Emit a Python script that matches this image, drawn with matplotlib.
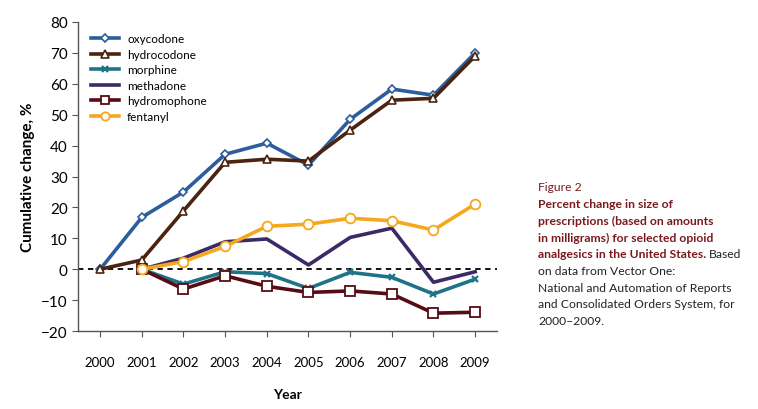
import matplotlib.pyplot as plt

plt.rcParams["font.family"] = ["Lato", "DejaVu Sans"]

years = ["2000", "2001", "2002", "2003", "2004", "2005", "2006", "2007", "2008", "2009"]
oxycodone = [0, 16.8, 25.0, 37.2, 40.8, 33.7, 48.5, 58.3, 56.3, 70.0]
hydrocodone = [0, 3.0, 18.9, 34.6, 35.6, 35.0, 45.0, 54.7, 55.3, 69.0]
morphine = [0, -4.8, -0.8, -1.4, -6.2, -1.0, -2.6, -8.0, -3.2]
methadone = [0, 3.6, 8.9, 9.8, 1.4, 10.3, 13.3, -4.2, -0.8]
hydromorphone = [0, -6.4, -2.1, -5.5, -7.5, -7.0, -8.0, -14.2, -13.9]
fentanyl = [0, 2.5, 7.4, 13.9, 14.6, 16.5, 15.7, 12.7, 21.1]

caption_title = "Figure 2"
caption_bold = ["Percent change in size of", "prescriptions (based on amounts",
                "in milligrams) for selected opioid", "analgesics in the United States."]
caption_plain = ["on data from Vector One:", "National and Automation of Reports",
                 "and Consolidated Orders System, for", "2000\u20132009."]

fig = plt.figure(figsize=(7.58, 4.10), dpi=100)
ax = fig.add_axes([0.103, 0.19, 0.553, 0.754])

x_all = list(range(len(years)))
x_late = list(range(1, len(years)))

ax.axhline(0, color="black", lw=1.3, ls=(0, (3, 2.5)), zorder=1)

ax.plot(x_all, oxycodone, color="#2c5d9c", lw=2.6, marker="D", ms=4.5,
        mfc="white", mec="#2c5d9c", mew=1.2, label="oxycodone", zorder=3)
ax.plot(x_all, hydrocodone, color="#4a2410", lw=2.6, marker="^", ms=6,
        mfc="white", mec="#4a2410", mew=1.2, label="hydrocodone", zorder=3)
ax.plot(x_late, morphine, color="#1f7389", lw=2.6, marker="x", ms=5,
        mec="#1f7389", mew=1.6, label="morphine", zorder=3)
ax.plot(x_late, methadone, color="#3b2a66", lw=2.6, label="methadone", zorder=3)
ax.plot(x_late, hydromorphone, color="#560c14", lw=2.6, marker="s", ms=6.5,
        mfc="white", mec="#560c14", mew=1.3, label="hydromophone", zorder=3)
ax.plot(x_late, fentanyl, color="#f5a81c", lw=2.6, marker="o", ms=7,
        mfc="white", mec="#f5a81c", mew=1.3, label="fentanyl", zorder=3)

ax.set_xlim(-0.53, 9.53)
ax.set_ylim(-20, 80)
ax.set_yticks(range(-20, 81, 10))
ax.set_yticklabels(["\u221220", "\u221210"] + [str(v) for v in range(0, 81, 10)])
ax.set_xticks(x_all)
ax.set_xticklabels(years)

for s in ["top", "right"]:
    ax.spines[s].set_visible(False)
for s in ["left", "bottom"]:
    ax.spines[s].set_color("#555555")
    ax.spines[s].set_linewidth(1.0)
ax.tick_params(axis="y", direction="out", length=4, color="#555555", labelsize=11)
ax.tick_params(axis="x", direction="out", length=4, color="#555555", labelsize=9.5, pad=14)

ax.set_ylabel("Cumulative change, %", fontsize=11, fontweight="bold", labelpad=4)
ax.set_xlabel("Year", fontsize=10, fontweight="bold", labelpad=14)

ax.legend(loc="upper left", bbox_to_anchor=(0.01, 0.99), frameon=False, fontsize=8.5,
          handlelength=2.4, labelspacing=0.38, borderaxespad=0.3, handletextpad=0.7,
          markerscale=0.85)

caption_color = "#7a1a1f"
cap_x = 538 / 758
line_px = [188 + 16.7 * i for i in range(9)]
fs = 8.7


def fy(px):
    return 1 - px / 410


fig.text(cap_x, fy(line_px[0]), caption_title, fontsize=fs, color=caption_color, va="center")
last = None
for i, line in enumerate(caption_bold):
    last = fig.text(cap_x, fy(line_px[1 + i]), line, fontsize=fs, color=caption_color,
                    fontweight="bold", va="center")
for i, line in enumerate(caption_plain):
    fig.text(cap_x, fy(line_px[5 + i]), line, fontsize=fs, color="#222222", va="center")

fig.canvas.draw()
bb = last.get_window_extent(fig.canvas.get_renderer())
fig.text(bb.x1 / fig.bbox.width + 0.004, fy(line_px[4]), "Based",
         fontsize=fs, color="#222222", va="center")

fig.savefig("out.png", dpi=100)
